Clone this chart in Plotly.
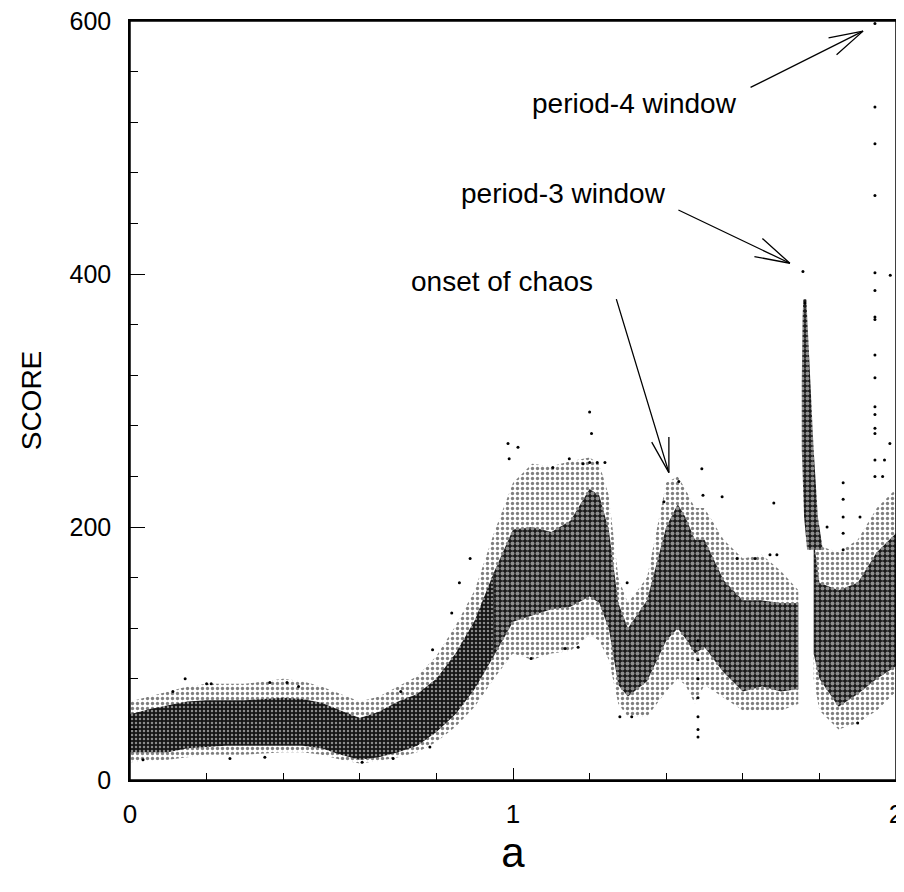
import plotly.graph_objects as go

# ---- data (a, SCORE) ----
# main band, segment 1 (a = 0 .. 1.745)
seg1_a = [0.00, 0.05, 0.10, 0.15, 0.20, 0.25, 0.30, 0.35, 0.40, 0.45, 0.50, 0.55, 0.60, 0.65,
          0.70, 0.75, 0.80, 0.85, 0.90, 0.95, 1.00, 1.05, 1.10, 1.15, 1.20, 1.225, 1.25, 1.275,
          1.30, 1.35, 1.40, 1.43, 1.45, 1.475, 1.50, 1.55, 1.60, 1.65, 1.70, 1.745]
seg1_core_lo = [22, 22, 22, 25, 26, 27, 27, 27, 27, 27, 25, 20, 16, 18,
                22, 27, 38, 52, 72, 98, 125, 130, 135, 137, 145, 140, 120, 75,
                66, 78, 110, 120, 112, 100, 105, 85, 70, 74, 70, 72]
seg1_core_hi = [52, 56, 59, 62, 63, 63, 63, 64, 65, 64, 61, 55, 49, 54,
                62, 68, 80, 100, 126, 164, 198, 200, 196, 205, 230, 225, 198, 140,
                120, 142, 200, 218, 208, 190, 190, 158, 142, 142, 140, 140]
seg1_out_lo = [14, 15, 16, 18, 20, 20, 20, 21, 22, 22, 20, 16, 13, 15,
               18, 22, 30, 42, 58, 80, 100, 95, 100, 102, 115, 110, 95, 60,
               50, 50, 70, 80, 75, 60, 75, 65, 55, 55, 55, 60]
seg1_out_hi = [62, 66, 70, 74, 76, 76, 76, 78, 80, 78, 74, 68, 62, 66,
               74, 82, 98, 122, 150, 195, 235, 250, 248, 252, 255, 250, 225, 160,
               140, 160, 235, 240, 230, 215, 215, 190, 175, 178, 165, 150]

# main band, segment 2 (a = 1.785 .. 2.0)
seg2_a = [1.785, 1.80, 1.85, 1.90, 1.95, 2.00]
seg2_core_lo = [100, 80, 58, 68, 80, 90]
seg2_core_hi = [190, 156, 150, 156, 180, 195]
seg2_out_lo = [80, 55, 40, 45, 55, 70]
seg2_out_hi = [210, 185, 180, 190, 215, 230]

# period-3 window streak
p3_score = [380, 366, 314, 261, 208, 182]
p3_left = [1.758, 1.756, 1.754, 1.754, 1.760, 1.768]
p3_right = [1.766, 1.770, 1.777, 1.785, 1.796, 1.809]

# isolated points
pts_a = [1.945, 1.945, 1.945, 1.945, 1.945, 1.945, 1.945, 1.945, 1.945, 1.945, 1.945, 1.945,
         1.945, 1.945, 1.945, 1.945, 1.985,
         1.757, 1.762, 1.200, 1.205,
         1.493, 1.433, 1.394, 1.496, 1.546, 1.681, 1.585, 1.632, 1.671, 1.689,
         0.987, 1.013, 0.990, 1.147, 1.104, 1.183, 1.200, 1.220, 1.240, 1.298,
         1.047, 1.136, 1.170, 1.279, 1.310,
         0.783, 0.840, 0.860, 0.888, 0.790,
         0.144, 0.200, 0.212, 0.365, 0.410, 0.440, 0.112, 0.707,
         0.352, 0.261, 0.034, 0.606, 0.687,
         1.862, 1.862, 1.862, 1.862, 1.862, 1.906, 1.984, 1.970, 1.965, 1.820, 1.900,
         1.483, 1.483, 1.483, 1.483, 1.483, 1.483, 1.483]
pts_s = [598, 532, 503, 462, 401, 387, 366, 364, 336, 318, 295, 289,
         278, 274, 253, 240, 399,
         402, 377, 291, 274,
         246, 236, 220, 225, 224, 219, 175, 175, 178, 178,
         266, 263, 254, 254, 247, 250, 251, 251, 251, 156,
         96, 104, 105, 50, 50,
         26, 132, 156, 175, 103,
         80, 76, 76, 77, 77, 74, 70, 70,
         18, 17, 16, 14, 17,
         235, 222, 208, 195, 182, 208, 266, 253, 240, 200, 45,
         110, 95, 80, 65, 50, 40, 34]

x_ticks = [0, 1, 2]
y_ticks = [0, 200, 400, 600]
dense_until = 0.95  # the cloud is almost solid black left of this a-value


def band(a, lo, hi):
    return list(a) + list(a)[::-1], list(hi) + list(lo)[::-1]


fig = go.Figure()

clear = "rgba(255,255,255,0)"
sparse = dict(shape=".", size=5, solidity=0.35, fgcolor="black", bgcolor=clear)
mottled = dict(shape=".", size=5, solidity=0.5, fgcolor="white", bgcolor="#1a1a1a")
dense = dict(shape=".", size=4, solidity=0.3, fgcolor="white", bgcolor="#151515")


def add_band(a, lo, hi, pattern, fillcolor):
    bx, by = band(a, lo, hi)
    fig.add_trace(go.Scatter(x=bx, y=by, mode="lines", fill="toself", line=dict(width=0),
                             fillcolor=fillcolor, fillpattern=pattern, hoverinfo="skip"))


add_band(seg1_a, seg1_out_lo, seg1_out_hi, sparse, clear)
add_band(seg2_a, seg2_out_lo, seg2_out_hi, sparse, clear)

k = seg1_a.index(dense_until) + 1
add_band(seg1_a[:k], seg1_core_lo[:k], seg1_core_hi[:k], dense, "#151515")
add_band(seg1_a[k - 1:], seg1_core_lo[k - 1:], seg1_core_hi[k - 1:], mottled, "#1a1a1a")
add_band(seg2_a, seg2_core_lo, seg2_core_hi, mottled, "#1a1a1a")

fig.add_trace(go.Scatter(x=p3_left + p3_right[::-1], y=p3_score + p3_score[::-1], mode="lines",
                         fill="toself", line=dict(width=0), fillcolor="#1a1a1a",
                         fillpattern=mottled, hoverinfo="skip"))

fig.add_trace(go.Scatter(x=pts_a, y=pts_s, mode="markers",
                         marker=dict(size=3, color="black"), hoverinfo="skip"))

font = "Liberation Sans, Arial, sans-serif"

annotations = []
# labels
for txt, xa, ys in [("period-4 window", 1.316, 535), ("period-3 window", 1.131, 464),
                    ("onset of chaos", 0.971, 394)]:
    annotations.append(dict(x=xa, y=ys, xref="x", yref="y", text=txt, showarrow=False,
                            font=dict(family=font, size=28, color="black"),
                            xanchor="center", yanchor="middle"))

# arrows: tip (data) + pixel offsets to tail
arrows = [
    (1.914, 592, [(-114, 57), (-36, 7), (-28, 25)]),
    (1.723, 408.5, [(-113, -54), (-29, -26), (-37, -7)]),
    (1.407, 243, [(-53, -175), (-18, -32), (0, -37)]),
]
for xt, yt, offs in arrows:
    for ax, ay in offs:
        annotations.append(dict(x=xt, y=yt, xref="x", yref="y", text="", showarrow=True,
                                ax=ax, ay=ay, arrowhead=0, arrowwidth=1.3, arrowcolor="black",
                                standoff=0, startstandoff=0))

fig.update_layout(
    width=896, height=876,
    margin=dict(l=122, r=8, t=13, b=104),
    paper_bgcolor="white", plot_bgcolor="white",
    showlegend=False,
    font=dict(family=font, size=26, color="black"),
    annotations=annotations,
    shapes=[dict(type="rect", xref="paper", yref="paper", x0=0, y0=0, x1=1, y1=1,
                 line=dict(color="black", width=1.5), layer="above")],
    xaxis=dict(range=[0, 2], tickvals=x_ticks, ticktext=[str(v) for v in x_ticks],
               ticks="inside", ticklen=12, tickwidth=1.3, tickcolor="black",
               minor=dict(dtick=0.2, ticks="inside", ticklen=7, tickwidth=1.2, tickcolor="black"),
               showline=True, linecolor="black", linewidth=1.5, mirror=True,
               showgrid=False, zeroline=False, ticklabelstandoff=10, automargin=False,
               ticklabeloverflow="allow", tickfont=dict(size=26),
               title=dict(text="a", font=dict(size=42), standoff=6)),
    yaxis=dict(range=[0, 600], tickvals=y_ticks, ticktext=[str(v) for v in y_ticks],
               ticks="inside", ticklen=15, tickwidth=1.3, tickcolor="black",
               minor=dict(dtick=40, ticks="inside", ticklen=8, tickwidth=1.2, tickcolor="black"),
               showline=True, linecolor="black", linewidth=1.5, mirror=True,
               showgrid=False, zeroline=False, ticklabelstandoff=12, automargin=False,
               ticklabeloverflow="allow", tickfont=dict(size=25),
               title=dict(text="SCORE", font=dict(size=28), standoff=20)),
)

fig.write_html("out.html")
